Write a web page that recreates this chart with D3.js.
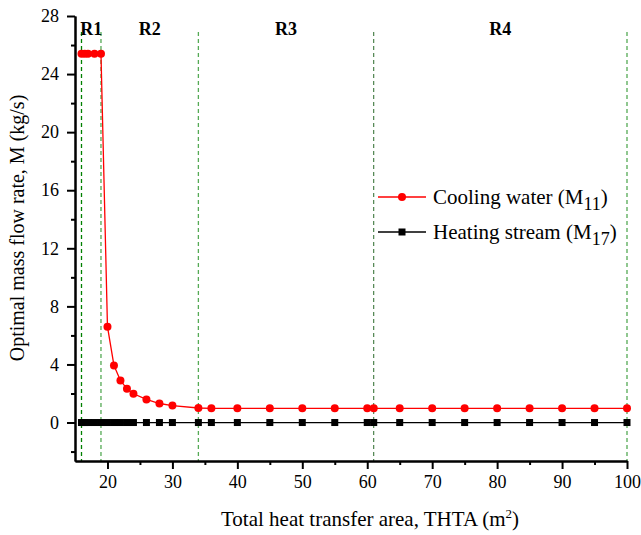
<!DOCTYPE html>
<html>
<head>
<meta charset="utf-8">
<script src="https://cdn.jsdelivr.net/npm/d3@7"></script>
<style>
  body { margin: 0; background: #fff; }
  text { font-family: "Liberation Serif", "Times New Roman", serif; }
</style>
</head>
<body>
<div id="chart-area"></div>
<script>
// data
var areas = [16, 16.5, 17, 18, 19, 20, 21, 22, 23, 24, 26, 28, 30, 34, 36, 40, 45, 50, 55, 60, 61, 65, 70, 75, 80, 85, 90, 95, 100];
var coolingWater = [25.4, 25.4, 25.4, 25.4, 25.4, 6.6, 3.93, 2.9, 2.32, 1.98, 1.59, 1.31, 1.17, 1.0, 0.98, 0.98, 0.98, 0.98, 0.98, 0.98, 0.98, 0.98, 0.98, 0.98, 0.98, 0.98, 0.98, 0.98, 0.98];
var heatingStream = [0, 0, 0, 0, 0, 0, 0, 0, 0, 0, 0, 0, 0, 0, 0, 0, 0, 0, 0, 0, 0, 0, 0, 0, 0, 0, 0, 0, 0];
var regionBounds = [16, 19, 34, 61, 100];
var regionNames = ["R1", "R2", "R3", "R4"];
var xTicks = [20, 30, 40, 50, 60, 70, 80, 90, 100];
var yTicks = [0, 4, 8, 12, 16, 20, 24, 28];

var margin = { left: 75, right: 14, top: 16, bottom: 74 };
var width = 641 - margin.left - margin.right;
var height = 535 - margin.top - margin.bottom;

var svg = d3.select("#chart-area")
    .append("svg")
    .attr("width", 641)
    .attr("height", 535);

var g = svg.append("g")
    .attr("transform", "translate(" + margin.left + "," + margin.top + ")");

var x = d3.scaleLinear().domain([15, 100]).range([0, 552]);
var y = d3.scaleLinear().domain([-2.65, 28]).range([height, 0]);

// region separators
var sepColors = ["#008000", "#55aa55", "#55aa55", "#2a6a2a", "#55aa55"];
g.selectAll(".sep")
    .data(regionBounds)
    .enter().append("line")
    .attr("class", "sep")
    .attr("x1", d => x(d)).attr("x2", d => x(d))
    .attr("y1", 16).attr("y2", height)
    .attr("stroke", (d, i) => sepColors[i])
    .attr("stroke-width", (d, i) => i == 3 ? 1 : 1.3)
    .attr("stroke-dasharray", "4,3");

// region labels
g.selectAll(".reg")
    .data(regionNames)
    .enter().append("text")
    .attr("class", "reg")
    .attr("x", (d, i) => x((regionBounds[i] + regionBounds[i + 1]) / 2))
    .attr("y", 19)
    .attr("text-anchor", "middle")
    .attr("font-size", "18px")
    .attr("font-weight", "bold")
    .text(d => d);

// axes
var xAxis = d3.axisBottom(x).tickValues(xTicks).tickSize(8).tickSizeOuter(0).tickPadding(6);
var xMinor = d3.axisBottom(x).tickValues(d3.range(25, 100, 10)).tickSize(4).tickFormat("").tickSizeOuter(0);
var yAxis = d3.axisLeft(y).tickValues(yTicks).tickSize(8).tickSizeOuter(0).tickPadding(8);
var yMinor = d3.axisLeft(y).tickValues([-2, 2, 6, 10, 14, 18, 22, 26]).tickSize(4).tickFormat("").tickSizeOuter(0);

[xAxis, xMinor].forEach(function (a) {
    g.append("g")
        .attr("transform", "translate(0," + height + ")")
        .call(a);
});
[yAxis, yMinor].forEach(function (a) {
    g.append("g").call(a);
});

g.selectAll(".domain").attr("stroke", "#000").attr("stroke-width", 2);
g.selectAll(".tick line").attr("stroke", "#000").attr("stroke-width", 2);
g.selectAll(".tick text")
    .attr("font-family", "Liberation Serif, serif")
    .attr("font-size", "18px")
    .attr("fill", "#000");

// series lines
var line = d3.line()
    .x(d => x(d[0]))
    .y(d => y(d[1]));

var red = areas.map((a, i) => [a, coolingWater[i]]);
var black = areas.map((a, i) => [a, heatingStream[i]]);

g.append("path")
    .datum(black)
    .attr("fill", "none")
    .attr("stroke", "#000")
    .attr("stroke-width", 1.3)
    .attr("d", line);

g.selectAll(".sq")
    .data(black)
    .enter().append("rect")
    .attr("class", "sq")
    .attr("x", d => x(d[0]) - 3.5)
    .attr("y", d => y(d[1]) - 3.5)
    .attr("width", 7)
    .attr("height", 7)
    .attr("fill", "#000");

g.append("path")
    .datum(red)
    .attr("fill", "none")
    .attr("stroke", "#ff0000")
    .attr("stroke-width", 1.3)
    .attr("d", line);

g.selectAll(".dot")
    .data(red)
    .enter().append("circle")
    .attr("class", "dot")
    .attr("cx", d => x(d[0]))
    .attr("cy", d => y(d[1]))
    .attr("r", 4)
    .attr("fill", "#ff0000");

// legend
var legend = [
    { name: "Cooling water (M", sub: "11", color: "#ff0000", shape: "circle" },
    { name: "Heating stream (M", sub: "17", color: "#000", shape: "square" }
];
var lg = svg.selectAll(".lg")
    .data(legend)
    .enter().append("g")
    .attr("class", "lg")
    .attr("transform", (d, i) => "translate(378," + (197 + i * 35) + ")");

lg.append("line")
    .attr("x1", 0).attr("x2", 48)
    .attr("stroke", d => d.color)
    .attr("stroke-width", 1.3);
lg.filter(d => d.shape == "circle").append("circle")
    .attr("cx", 24).attr("r", 4).attr("fill", d => d.color);
lg.filter(d => d.shape == "square").append("rect")
    .attr("x", 20.5).attr("y", -3.5).attr("width", 7).attr("height", 7).attr("fill", d => d.color);

var lt = lg.append("text")
    .attr("x", 55)
    .attr("y", 7)
    .attr("font-size", "21px")
    .text(d => d.name);
lt.append("tspan").attr("dy", 6).attr("font-size", "18px").text(d => d.sub);
lt.append("tspan").attr("dy", -6).text(")");

// axis titles
svg.append("text")
    .attr("transform", "translate(24," + 228 + ") rotate(-90)")
    .attr("text-anchor", "middle")
    .attr("font-size", "20px")
    .text("Optimal mass flow rate, M (kg/s)");

var xt = svg.append("text")
    .attr("x", 370)
    .attr("y", 526)
    .attr("text-anchor", "middle")
    .attr("font-size", "21px")
    .text("Total heat transfer area, THTA (m");
xt.append("tspan").attr("dy", -8).attr("font-size", "13px").text("2");
xt.append("tspan").attr("dy", 8).text(")");
</script>
</body>
</html>
